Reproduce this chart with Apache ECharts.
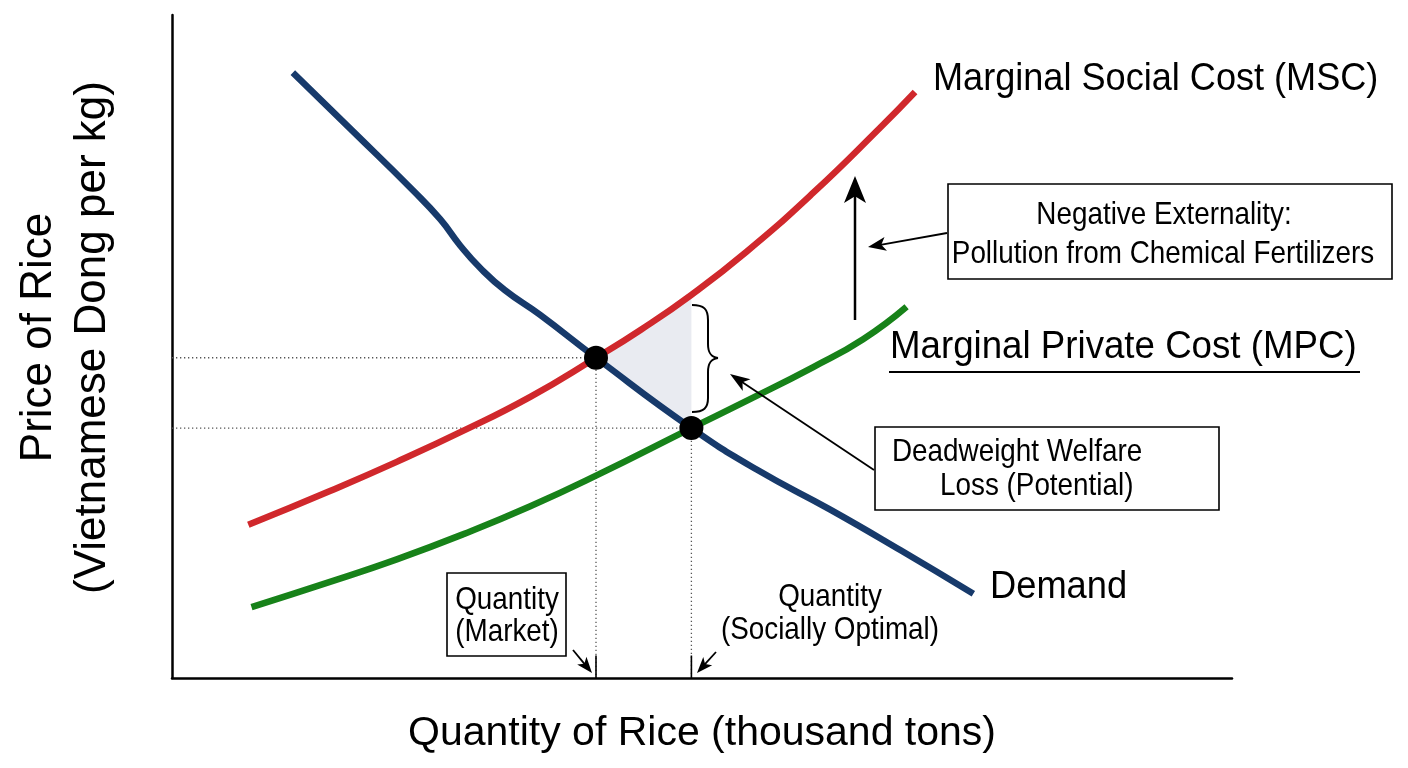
<!DOCTYPE html>
<html>
<head>
<meta charset="utf-8">
<script src="https://cdn.jsdelivr.net/npm/echarts@6/dist/echarts.min.js"></script>
<style>
html,body{margin:0;padding:0;background:#fff;}
#chart{width:1408px;height:768px;}
</style>
</head>
<body>
<div id="chart"></div>
<script>
// ---- Data (schematic units: quantity 0-100, price 0-100) ----
const demandQ = [11.4, 17.1, 22.7, 25.3, 27.2, 29.1, 31.4, 34.7, 40.0, 49.0, 55.2, 62.1, 68.7, 75.6];
const demandP = [91.3, 82.4, 73.6, 69.2, 65.2, 61.8, 58.5, 54.8, 48.3, 37.7, 31.4, 25.4, 19.3, 12.7];
const mscQ = [7.2, 14.9, 21.2, 27.5, 33.8, 40.0, 44.2, 49.0, 54.2, 60.5, 66.8, 70.1];
const mscP = [23.1, 28.2, 32.6, 37.3, 42.4, 48.3, 52.5, 57.8, 64.3, 73.2, 83.0, 88.4];
const mpcQ = [7.5, 14.9, 21.2, 27.5, 33.8, 40.1, 49.0, 54.2, 60.5, 65.2, 69.3];
const mpcP = [10.7, 14.5, 17.9, 21.7, 25.9, 30.6, 37.7, 41.8, 46.9, 51.1, 56.0];
const marketEq = [40.0, 48.3];      // Quantity (Market), price
const optimalEq = [49.0, 37.7];     // Quantity (Socially Optimal), price
const tickHeight = 3.4;

const seriesNames = ['Demand', 'Marginal Social Cost (MSC)', 'Marginal Private Cost (MPC)'];
const xTitle = 'Quantity of Rice (thousand tons)';
const yTitle = 'Price of Rice\n(Vietnamese Dong per kg)';

const zip = (a, b) => a.map((v, i) => [v, b[i]]);
const demand = zip(demandQ, demandP);
const msc = zip(mscQ, mscP);
const mpc = zip(mpcQ, mpcP);

// deadweight loss region: MSC from market to optimal, then demand back
const dwl = msc.filter(p => p[0] >= marketEq[0] && p[0] <= optimalEq[0])
  .concat(demand.filter(p => p[0] >= marketEq[0] && p[0] <= optimalEq[0]).reverse());

const FONT = '"Liberation Sans", Arial, Helvetica, sans-serif';

function arrow(x1, y1, x2, y2, len, half, lw) {
  const a = Math.atan2(y2 - y1, x2 - x1);
  const c = Math.cos(a), s = Math.sin(a);
  const bx = x2 - len * c, by = y2 - len * s;
  const nx = -s, ny = c;
  return [
    {type: 'line', shape: {x1: x1, y1: y1, x2: bx + len * 0.3 * c, y2: by + len * 0.3 * s},
     style: {stroke: '#000', lineWidth: lw}, z: 50},
    {type: 'polygon', shape: {points: [[x2, y2], [bx + nx * half, by + ny * half],
      [bx + len * 0.25 * c, by + len * 0.25 * s], [bx - nx * half, by - ny * half]]},
     style: {fill: '#000'}, z: 50}
  ];
}
function txt(x, y, s, size, align, sx) {
  return {type: 'text', x: x, y: y, z: 60, scaleX: sx || 1,
    style: {text: s, font: size + 'px ' + FONT, fill: '#000', align: align || 'center', verticalAlign: 'middle'}};
}
function box(x, y, w, h) {
  return {type: 'rect', shape: {x: x, y: y, width: w, height: h},
    style: {fill: '#fff', stroke: '#000', lineWidth: 1.6}, z: 40};
}
function bez(x1, y1, cx1, cy1, cx2, cy2, x2, y2) {
  return {type: 'bezierCurve', z: 50,
    shape: {x1: x1, y1: y1, cpx1: cx1, cpy1: cy1, cpx2: cx2, cpy2: cy2, x2: x2, y2: y2},
    style: {stroke: '#000', fill: 'none', lineWidth: 2}};
}
function seg(x1, y1, x2, y2, lw) {
  return {type: 'line', z: 50, shape: {x1: x1, y1: y1, x2: x2, y2: y2}, style: {stroke: '#000', lineWidth: lw || 2}};
}
const AN = 32, ASX = 0.87;   // annotation font size / horizontal condensing

const graphics = [].concat(
  [box(948, 184, 444, 95), txt(1164, 215, 'Negative Externality:', AN, 'center', ASX), txt(1163, 254, 'Pollution from Chemical Fertilizers', AN, 'center', ASX)],
  [box(875, 427, 344, 83), txt(892, 452, 'Deadweight Welfare', AN, 'left', ASX), txt(940, 486, 'Loss (Potential)', AN, 'left', ASX)],
  [box(447, 573, 119, 83), txt(507, 600, 'Quantity', AN, 'center', ASX), txt(507, 632, '(Market)', AN, 'center', ASX)],
  [txt(830, 597, 'Quantity', AN, 'center', ASX), txt(830, 630, '(Socially Optimal)', AN, 'center', ASX)],
  [txt(933, 80, seriesNames[1], 38, 'left', 0.95), txt(890, 348, seriesNames[2], 38, 'left', 0.965), txt(990, 588, seriesNames[0], 38, 'left', 0.955)],
  [seg(889, 372, 1360, 372, 2)],
  arrow(855, 320, 855, 176, 27, 11, 2.5),
  arrow(947, 233, 868, 247, 18, 7, 1.8),
  arrow(874, 470, 730, 374, 20, 7, 1.8),
  arrow(573, 650, 592, 673, 16, 6, 1.8),
  arrow(716, 652, 697, 673, 16, 6, 1.8),
  [
    bez(692, 305, 704, 305, 708, 309, 708, 320),
    seg(708, 320, 708, 344),
    bez(708, 344, 708, 353, 711, 357, 718, 358),
    bez(718, 358, 711, 359, 708, 363, 708, 372),
    seg(708, 372, 708, 398),
    bez(708, 398, 708, 408, 704, 412, 692, 412)
  ]
);

const chart = echarts.init(document.getElementById('chart'));
const axisCommon = {
  type: 'value', min: 0, max: 100,
  axisLine: {show: true, lineStyle: {color: '#000', width: 2.5}},
  axisTick: {show: false}, axisLabel: {show: false}, splitLine: {show: false}
};
const dotted = {color: '#555', width: 1.3, type: [1.3, 2.7]};
const curve = {type: 'line', symbol: 'none', smooth: 0.5, silent: true};

chart.setOption({
  animation: false,
  backgroundColor: '#fff',
  grid: {left: 172, right: 176, top: 15, bottom: 90},
  xAxis: Object.assign({}, axisCommon, {
    name: xTitle, nameLocation: 'middle', nameGap: 35,
    nameTextStyle: {fontSize: 41, fontFamily: FONT, color: '#000'}
  }),
  yAxis: Object.assign({}, axisCommon, {
    name: yTitle, nameLocation: 'middle', nameGap: 52, nameRotate: 90,
    nameTextStyle: {fontSize: 44, lineHeight: 54, fontFamily: FONT, color: '#000', align: 'center', padding: [0, 0, 0, 18]}
  }),
  series: [
    {type: 'custom', name: 'Deadweight loss', z: 1, silent: true,
     data: [marketEq],
     renderItem: function (params, api) {
       return {type: 'polygon', shape: {points: dwl.map(p => api.coord(p))}, style: {fill: '#e9ebf1'}};
     }},
    {type: 'line', z: 2, symbol: 'none', silent: true, lineStyle: dotted,
     data: [[0, marketEq[1]], marketEq, [marketEq[0], 0]]},
    {type: 'line', z: 2, symbol: 'none', silent: true, lineStyle: dotted,
     data: [[0, optimalEq[1]], optimalEq, [optimalEq[0], 0]]},
    {type: 'line', z: 2, symbol: 'none', silent: true, lineStyle: {color: '#000', width: 1.6},
     data: [[marketEq[0], 0], [marketEq[0], tickHeight]]},
    {type: 'line', z: 2, symbol: 'none', silent: true, lineStyle: {color: '#000', width: 1.6},
     data: [[optimalEq[0], 0], [optimalEq[0], tickHeight]]},
    Object.assign({}, curve, {name: seriesNames[1], z: 3,
     lineStyle: {color: '#d0282c', width: 6.5, cap: 'butt'}, data: msc}),
    Object.assign({}, curve, {name: seriesNames[2], z: 3,
     lineStyle: {color: '#178219', width: 6.5, cap: 'butt'}, data: mpc}),
    Object.assign({}, curve, {name: seriesNames[0], z: 4,
     lineStyle: {color: '#173a6b', width: 6.5, cap: 'butt'}, data: demand}),
    {type: 'scatter', z: 6, symbolSize: 24, silent: true, itemStyle: {color: '#000', opacity: 1},
     data: [marketEq, optimalEq]}
  ],
  graphic: graphics
});
</script>
</body>
</html>
